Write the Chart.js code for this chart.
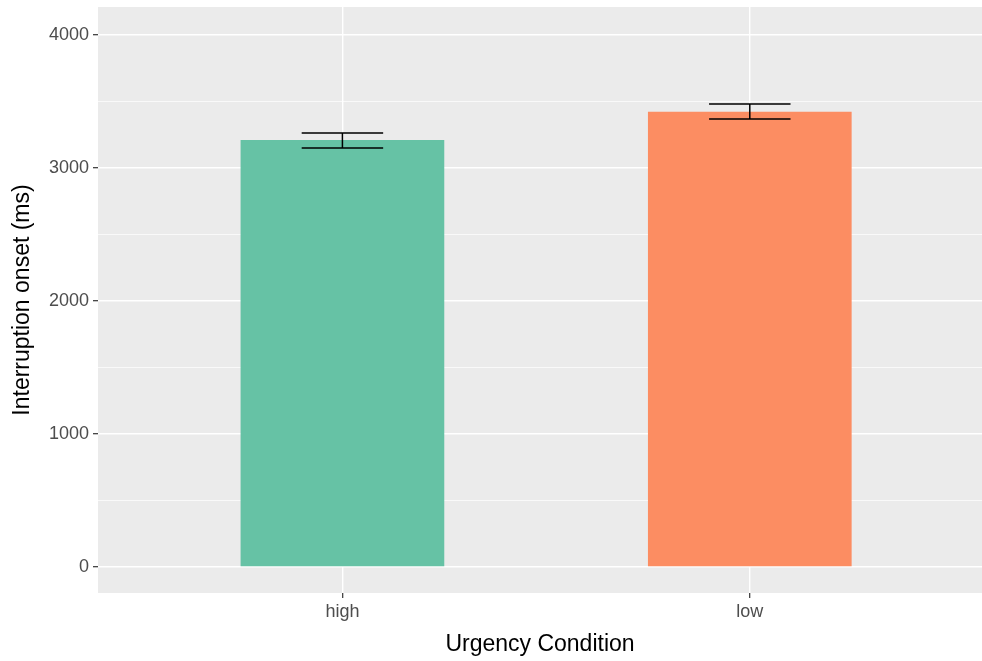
<!DOCTYPE html>
<html>
<head>
<meta charset="utf-8">
<script src="https://cdn.jsdelivr.net/npm/chart.js@4/dist/chart.umd.min.js"></script>
<style>
  body { margin: 0; background: #fff; }
  #wrap { width: 982px; height: 661px; }
</style>
</head>
<body>
<div id="wrap"><canvas id="myChart"></canvas></div>
<script>
// data
const conditions = ['high', 'low'];
const onsetMeans = [3210, 3422];
const errLow = [3150, 3368];
const errHigh = [3263, 3480];
const barColors = ['#66C2A5', '#FC8D62'];
const yTicks = [0, 500, 1000, 1500, 2000, 2500, 3000, 3500, 4000];

const points = conditions.map((c, i) => ({ x: i + 1, y: onsetMeans[i] }));

// grey ggplot panel
const panelBg = {
  id: 'panelBg',
  beforeDraw(chart) {
    const a = chart.chartArea;
    const ctx = chart.ctx;
    ctx.save();
    ctx.fillStyle = '#EBEBEB';
    ctx.fillRect(a.left, a.top, a.right - a.left, a.bottom - a.top);
    ctx.restore();
  }
};

// error bars with caps, width 0.2 in x units
const errorBars = {
  id: 'errorBars',
  afterDatasetsDraw(chart) {
    const x = chart.scales.x, y = chart.scales.y;
    const ctx = chart.ctx;
    ctx.save();
    ctx.strokeStyle = '#000';
    ctx.lineWidth = 1.5;
    conditions.forEach((c, i) => {
      const cx = x.getPixelForValue(i + 1);
      const l = x.getPixelForValue(i + 0.9);
      const r = x.getPixelForValue(i + 1.1);
      const top = y.getPixelForValue(errHigh[i]);
      const bot = y.getPixelForValue(errLow[i]);
      ctx.beginPath();
      ctx.moveTo(l, top); ctx.lineTo(r, top);
      ctx.moveTo(l, bot); ctx.lineTo(r, bot);
      ctx.moveTo(cx, top); ctx.lineTo(cx, bot);
      ctx.stroke();
    });
    ctx.restore();
  }
};

const ctx = document.getElementById('myChart').getContext('2d');
const myChart = new Chart(ctx, {
  type: 'bar',
  data: {
    datasets: [{
      data: points,
      backgroundColor: barColors,
      borderWidth: 0,
      barPercentage: 0.5,
      categoryPercentage: 1
    }]
  },
  options: {
    responsive: true,
    maintainAspectRatio: false,
    animation: false,
    layout: { padding: { top: 7, right: 0, left: 0, bottom: 0 } },
    plugins: { legend: { display: false }, tooltip: { enabled: false } },
    scales: {
      x: {
        type: 'linear',
        min: 0.4,
        max: 2.57,
        offset: false,
        afterBuildTicks: s => { s.ticks = conditions.map((c, i) => ({ value: i + 1 })); },
        afterFit: s => { s.height = 68; s.paddingLeft = 0; s.paddingRight = 0; },
        ticks: {
          callback: v => conditions[v - 1],
          color: '#4D4D4D',
          font: { family: 'Liberation Sans', size: 18 },
          padding: 3,
          maxRotation: 0
        },
        grid: { offset: false, color: '#FFFFFF', lineWidth: 1.4, tickColor: '#333333', tickLength: 5, tickWidth: 1.2 },
        border: { display: false },
        title: {
          display: true,
          text: 'Urgency Condition',
          color: '#000',
          font: { family: 'Liberation Sans', size: 23 },
          padding: { top: 0, bottom: 3 }
        }
      },
      y: {
        min: -195,
        max: 4210,
        afterBuildTicks: s => { s.ticks = yTicks.map(v => ({ value: v })); },
        afterFit: s => { s.width = 98; s.paddingTop = 0; s.paddingBottom = 0; },
        ticks: {
          callback: v => (v % 1000 === 0 ? v : ''),
          color: '#4D4D4D',
          font: { family: 'Liberation Sans', size: 18 },
          padding: 4
        },
        grid: {
          color: '#FFFFFF',
          lineWidth: c => (c.tick && c.tick.value % 1000 === 0 ? 1.4 : 0.7),
          tickColor: c => (c.tick && c.tick.value % 1000 === 0 ? '#333333' : 'rgba(0,0,0,0)'),
          tickLength: 5,
          tickWidth: 1.2
        },
        border: { display: false },
        title: {
          display: true,
          text: 'Interruption onset (ms)',
          color: '#000',
          font: { family: 'Liberation Sans', size: 23 },
          padding: { top: 9, bottom: 4 }
        }
      }
    }
  },
  plugins: [panelBg, errorBars]
});
</script>
</body>
</html>
